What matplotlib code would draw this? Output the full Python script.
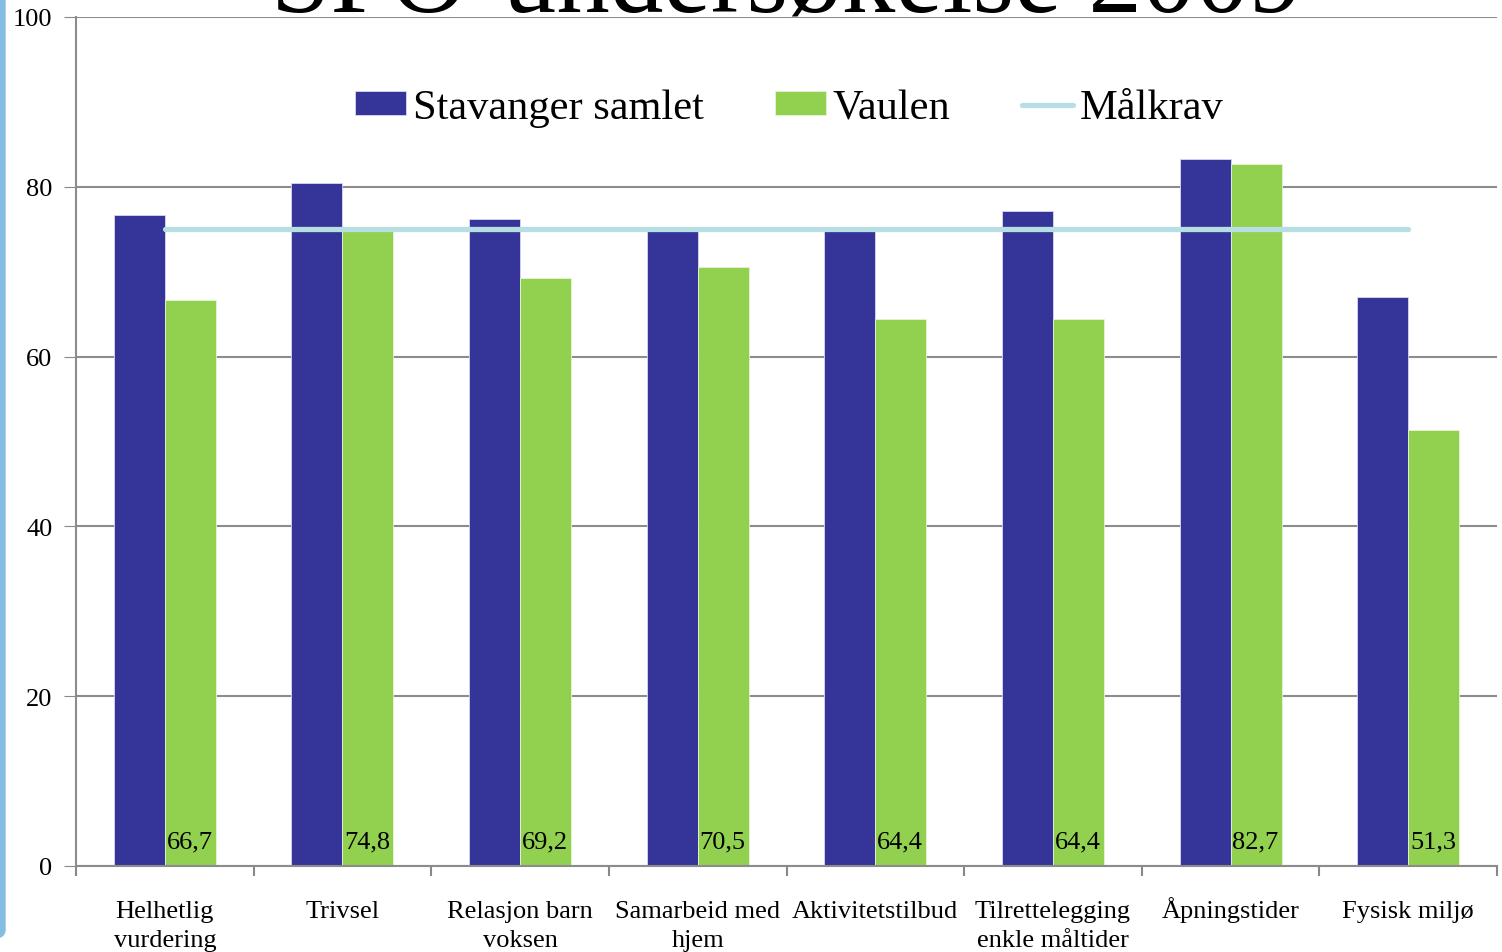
import numpy as np
import matplotlib.pyplot as plt
from matplotlib.patches import FancyBboxPatch

# data
categories = ['Helhetlig\nvurdering', 'Trivsel', 'Relasjon barn\nvoksen', 'Samarbeid med\nhjem',
              'Aktivitetstilbud', 'Tilrettelegging\nenkle måltider', 'Åpningstider', 'Fysisk miljø']
stavanger = [76.7, 80.4, 76.2, 75.1, 75.1, 77.1, 83.3, 67.0]
vaulen = [66.7, 74.8, 69.2, 70.5, 64.4, 64.4, 82.7, 51.3]
malkrav = [75, 75, 75, 75, 75, 75, 75, 75]
vaulen_labels = ['66,7', '74,8', '69,2', '70,5', '64,4', '64,4', '82,7', '51,3']

plt.rcParams['font.family'] = ['Liberation Serif', 'DejaVu Serif']

fig = plt.figure(figsize=(15.02, 9.53), dpi=100)
ax = fig.add_axes([76/1502, 1-867/953, (1497-76)/1502, (867-18)/953])

x = np.arange(len(categories))
w = 0.287
ax.bar(x - w/2, stavanger, w, color='#353599', edgecolor='#d9d9f0', linewidth=0.6,
       label='Stavanger samlet', zorder=2)
ax.bar(x + w/2, vaulen, w, color='#92D050', edgecolor='#e6f3d8', linewidth=0.6,
       label='Vaulen', zorder=2)
ax.plot(x, malkrav, color='#B7DEE3', linewidth=3.8, solid_capstyle='round',
        label='Målkrav', zorder=3)

for xi, lab in zip(x, vaulen_labels):
    ax.text(xi + 0.01, 1.6, lab, fontsize=19, ha='left', va='bottom', zorder=4)

ax.set_xlim(-0.5, len(categories) - 0.5)
ax.set_ylim(0, 100)
ax.set_yticks(range(0, 101, 20))
ax.tick_params(axis='y', labelsize=19, length=9, color='#888888', pad=8)
ax.set_xticks(x)
# pad single-line labels with an empty second line so all first lines share a baseline
ticklabels = [c if '\n' in c else c + '\n ' for c in categories]
ax.set_xticklabels(ticklabels, fontsize=19, linespacing=1.4, va='baseline')
ax.set_xticks(np.arange(-0.5, len(categories)), minor=True)
ax.tick_params(axis='x', which='major', length=0, pad=57.5)
ax.tick_params(axis='x', which='minor', length=7, color='#888888', width=1.5)
ax.grid(axis='y', color='#8c8c8c', linewidth=1.5, zorder=0)
ax.set_axisbelow(True)
for s in ['top', 'right']:
    ax.spines[s].set_visible(False)
for s in ['left', 'bottom']:
    ax.spines[s].set_color('#8c8c8c')
    ax.spines[s].set_linewidth(1.5)

h, l = ax.get_legend_handles_labels()
order = [1, 2, 0]
ax.legend([h[i] for i in order], [l[i] for i in order], loc='center',
          bbox_to_anchor=(0.502, 0.893), ncol=3, frameon=False,
          fontsize=30.5, handlelength=1.2, handleheight=0.5, columnspacing=1.7,
          handletextpad=0.15)

# cropped slide title and slide edge
fig.text(0.524, 1 - 12/953, 'SFO-undersøkelse 2009', fontsize=77, ha='center',
         va='baseline', zorder=5)
fig.patches.append(FancyBboxPatch((-20/1502, 1 - 940/953), 25/1502, 1.2,
                                  boxstyle='round,pad=0,rounding_size=0.01',
                                  transform=fig.transFigure, color='#84BDE0', zorder=0))

fig.savefig('out.png', dpi=100)
